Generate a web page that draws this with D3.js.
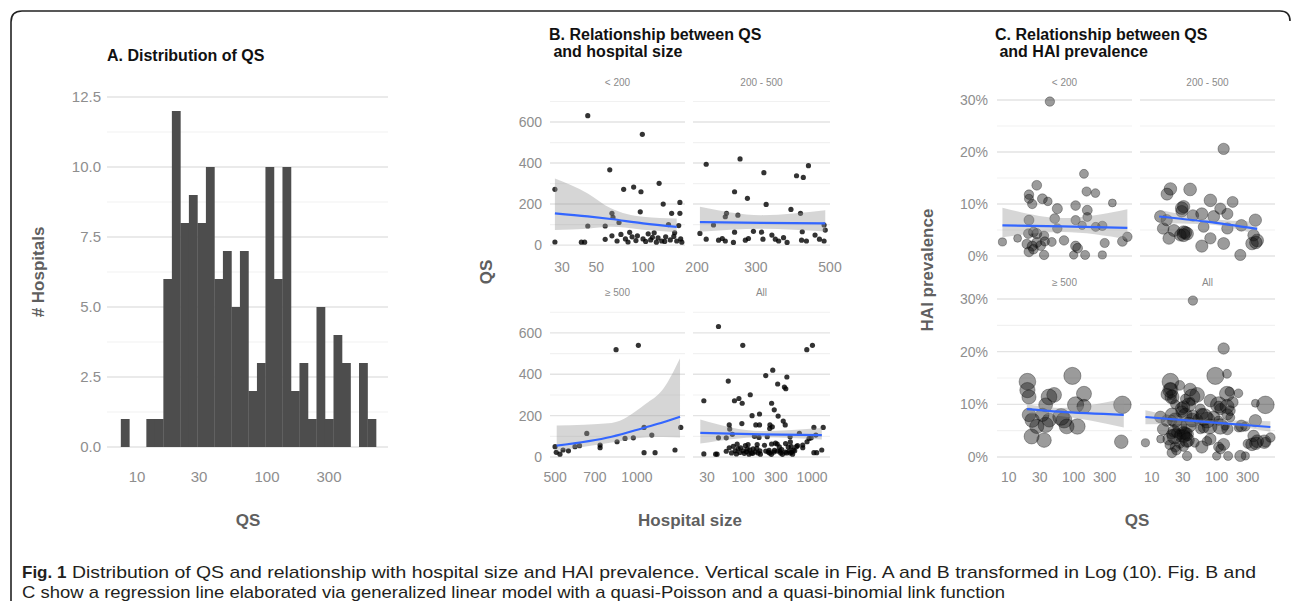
<!DOCTYPE html>
<html>
<head>
<meta charset="utf-8">
<script src="https://cdn.jsdelivr.net/npm/d3@7"></script>
<style>
body { margin: 0; background: #fff; }
svg text { font-family: "Liberation Sans", Arial, sans-serif; }
</style>
</head>
<body>
<svg id="fig" width="1292" height="601"></svg>
<script>
// ---------- data ----------
// A: histogram of QS, 30 bins on a log10 axis
var qsBinCounts = [1,0,0,1,1,6,12,8,9,8,10,6,7,5,7,2,3,10,6,10,2,3,1,5,1,4,3,0,3,1];
var qsBinRange = [7.5, 690];
var histTicks = [0, 2.5, 5, 7.5, 10, 12.5];
var qsTicks = [10, 30, 100, 300];

// B: [hospital size (beds), QS]
var bLt200 = [[27,272],[27,15],[40,14],[42,14],[44,631],[44,93],[57,93],[57,28],[61,367],[63,155],
  [64,135],[63,45],[68,20],[70,110],[75,272],[77,30],[80,15],[87,283],[85,40],[90,22],[97,260],
  [96,162],[99,540],[100,30],[104,18],[108,55],[112,25],[118,60],[122,14],[127,301],[125,35],
  [132,20],[135,200],[140,40],[146,100],[150,25],[153,155],[160,60],[165,20],[173,208],[173,155],
  [175,30],[170,95],[178,14],[92,45],[115,38],[138,18],[158,42],[72,52],[82,62]];
var b200to500 = [[204,57],[213,394],[213,29],[224,98],[232,24],[238,32],[243,138],[243,20],[245,155],
  [257,13],[259,260],[259,63],[265,146],[269,420],[279,24],[283,228],[285,32],[295,67],[312,63],
  [315,29],[317,353],[322,198],[335,49],[343,29],[351,20],[363,36],[372,13],[382,174],[397,338],
  [408,155],[411,24],[413,65],[416,330],[425,20],[431,387],[451,49],[465,29],[480,20],[480,98],[484,73]];
var bGe500 = [[500,50],[505,23],[521,14],[535,34],[560,30],[592,50],[615,55],[654,114],[732,58],
  [732,45],[838,519],[845,74],[904,90],[970,93],[1012,540],[1062,143],[1062,21],[1134,106],
  [1166,21],[1380,34],[1449,143]];
// fitted glm line: [size, fit, lower, upper]
var bFitLt200 = [[27,155,73,325],[44,140,80,252],[62,127,89,179],[100,106,75,138],[165,89,62,130]];
var bFit200to500 = [[204,112,65,187],[312,108,80,146],[484,106,66,170]];
var bFitGe500 = [[507,55,30,152],[807,98,70,165],[1072,143,95,255],[1250,168,97,330],[1440,195,95,478]];
var bFitAll = [[24,117,65,182],[186,110,96,126],[1384,106,85,140]];
var bTicksY = [0, 200, 400, 600];

// C: [QS, HAI prevalence %, hospital size]
var cLt200 = [[43,29.7,120],[144,15.8,90],[27,13.6,150],[158,12.4,110],[216,12.1,80],[20.5,11.8,130],
  [20.5,11.0,100],[33,11.0,160],[40,10.5,70],[23,10.0,120],[394,10.2,40],[56,9.1,180],[107,9.7,140],
  [162,8.8,160],[20.5,6.9,170],[51,7.2,150],[107,6.9,110],[162,7.5,90],[276,5.8,120],[218,5.6,100],
  [56,5.3,130],[135,5.9,60],[8,2.7,50],[13.7,3.4,40],[20,4.3,140],[24,4.6,160],[27,4.3,180],
  [35,3.9,120],[19,2.3,150],[23,1.9,180],[27,2.6,170],[31,2.0,160],[36,2.8,110],[46,2.7,90],
  [71,3.0,130],[107,1.9,170],[115,1.5,150],[150,0.2,100],[100,0.2,60],[35,0.2,120],[20.5,0.8,160],
  [24,1.3,140],[276,0.2,50],[300,2.5,110],[562,2.8,150],[670,3.7,130]];
var c200to500 = [[128,20.6,300],[19.4,12.9,450],[17.2,11.9,380],[39,12.8,480],[31,9.5,420],[29,8.6,350],
  [80,10.7,460],[114,9.1,300],[176,10.4,260],[13.6,7.6,350],[17,6.9,300],[43,7.8,320],[59,8.1,400],
  [146,8.1,280],[90,7.6,360],[15,5.3,330],[22,4.9,390],[31,4.6,460],[35,4.3,480],[63,5.6,250],
  [146,5.3,300],[240,5.9,340],[394,6.9,420],[18.4,3.4,380],[27.6,4.0,350],[59,1.9,410],[128,2.4,370],
  [231,0.2,280],[350,2.4,460],[420,3.0,480],[370,4.0,330],[80,3.4,300],[29,9.2,470],[33,4.5,440],
  [31,4.0,490],[400,2.6,450]];
var cGe500 = [[19.4,14.3,1200],[19.4,12.7,900],[20.5,11.4,700],[41.7,11.4,1000],[50,11.8,800],
  [37,9.9,650],[95.5,15.4,1300],[144,12.0,850],[107,9.9,1100],[144,9.6,700],[562,9.9,1400],
  [20.5,8.0,600],[23,7.0,750],[37,6.1,900],[42,7.0,650],[71,7.0,1000],[78,5.8,800],[114,5.8,950],
  [27,5.8,700],[22.5,3.9,850],[35,3.2,750],[540,2.9,600],[64,7.6,1200],[33,8.0,550]];
// fitted glm line: [QS, fit, lower, upper]
var cFitLt200 = [[8,5.9,3.6,9.3],[67,5.7,4.6,7.3],[670,5.4,3.2,9.0]];
var cFit200to500 = [[13,7.6,6.3,8.9],[70,6.6,6.1,7.2],[420,5.2,4.1,6.6]];
var cFitGe500 = [[19,9.1,8.2,10.0],[60,8.6,7.8,9.3],[590,8.0,5.6,11.1]];
var cFitAll = [[8,7.6,6.2,8.9],[60,6.7,6.3,7.1],[670,5.7,4.8,6.8]];
var haiTicks = [0, 10, 20, 30];

var groupLabels = ["< 200", "200 - 500", "\u2265 500", "All"];

// ---------- drawing ----------
var svg = d3.select("#fig");
var tickCol = "#8e8e8e", titleCol = "#5f5f5f";
var defs = svg.append("defs");
var clipN = 0;

svg.append("path")
    .attr("d", "M11,601 L11,22 Q11,11 22,11 L1280,11 Q1290,11 1290,21")
    .attr("fill", "none").attr("stroke", "#222").attr("stroke-width", 1.6);

function midpoints(a) {
    var m = [];
    for (var i = 0; i < a.length - 1; i++) m.push((a[i] + a[i + 1]) / 2);
    return m;
}

function hGrid(g, y, majors, minors, x0, x1) {
    g.selectAll(null).data(minors).enter().append("line")
        .attr("x1", x0).attr("x2", x1)
        .attr("y1", function(d) { return y(d); }).attr("y2", function(d) { return y(d); })
        .attr("stroke", "#f1f1f1").attr("stroke-width", 1.2);
    g.selectAll(null).data(majors).enter().append("line")
        .attr("x1", x0).attr("x2", x1)
        .attr("y1", function(d) { return y(d); }).attr("y2", function(d) { return y(d); })
        .attr("stroke", "#e3e3e3").attr("stroke-width", 1.4);
}

function yLabels(g, y, ticks, xRight, fmt, size) {
    g.selectAll(null).data(ticks).enter().append("text")
        .attr("x", xRight).attr("y", function(d) { return y(d); }).attr("dy", "0.35em")
        .attr("text-anchor", "end").attr("fill", tickCol).attr("font-size", size)
        .text(fmt);
}

function xLabels(g, x, ticks, yPos, size) {
    g.selectAll(null).data(ticks).enter().append("text")
        .attr("x", function(d) { return x(d); }).attr("y", yPos)
        .attr("text-anchor", "middle").attr("fill", tickCol).attr("font-size", size)
        .text(function(d) { return d; });
}

function clipFor(x0, y0, w, h) {
    var id = "clip" + (clipN++);
    defs.append("clipPath").attr("id", id).append("rect")
        .attr("x", x0).attr("y", y0).attr("width", w).attr("height", h);
    return "url(#" + id + ")";
}

function smooth(g, fit, x, y) {
    var area = d3.area().x(function(d) { return x(d[0]); })
        .y0(function(d) { return y(d[2]); }).y1(function(d) { return y(d[3]); })
        .curve(d3.curveMonotoneX);
    var line = d3.line().x(function(d) { return x(d[0]); })
        .y(function(d) { return y(d[1]); }).curve(d3.curveMonotoneX);
    g.append("path").attr("d", area(fit)).attr("fill", "#999").attr("fill-opacity", 0.4);
    g.append("path").attr("d", line(fit)).attr("fill", "none")
        .attr("stroke", "#3366ff").attr("stroke-width", 2.2);
}

function title(lines, x, y) {
    var t = svg.append("text").attr("x", x).attr("y", y)
        .attr("font-size", 16).attr("font-weight", "bold").attr("fill", "#111")
        .style("white-space", "pre");
    lines.forEach(function(s, i) {
        t.append("tspan").attr("x", x).attr("dy", i ? 17 : 0).text(s);
    });
}

function axisTitle(txt, x, y, rotate) {
    svg.append("text")
        .attr("transform", "translate(" + x + "," + y + ")" + (rotate ? " rotate(-90)" : ""))
        .attr("text-anchor", "middle").attr("dy", "0.35em")
        .attr("font-size", 17).attr("font-weight", "bold").attr("fill", titleCol)
        .text(txt);
}

// ---------- A. histogram ----------
var xA = d3.scaleLog().domain([5.87, 853]).range([107, 388]);
var yA = d3.scaleLinear().domain([0, 12.5]).range([447, 97]);
var gA = svg.append("g");
hGrid(gA, yA, histTicks, midpoints(histTicks), 107, 388);

var lo = Math.log10(qsBinRange[0]), hi = Math.log10(qsBinRange[1]);
var step = (hi - lo) / qsBinCounts.length;
var bins = qsBinCounts.map(function(n, i) {
    return {x0: Math.pow(10, lo + i * step), x1: Math.pow(10, lo + (i + 1) * step), n: n};
});
gA.selectAll(".bar").data(bins.filter(function(b) { return b.n > 0; }))
    .enter().append("rect").attr("class", "bar")
    .attr("x", function(d) { return xA(d.x0); })
    .attr("width", function(d) { return xA(d.x1) - xA(d.x0) + 0.3; })
    .attr("y", function(d) { return yA(d.n); })
    .attr("height", function(d) { return yA(0) - yA(d.n); })
    .attr("fill", "#4d4d4d");
yLabels(gA, yA, histTicks, 101, d3.format(".1f"), 15);
xLabels(gA, xA, qsTicks, 482, 15);
title(["A. Distribution of QS"], 107, 61);
axisTitle("# Hospitals", 38, 272, true);
axisTitle("QS", 248, 520, false);

// ---------- B. QS vs hospital size ----------
var bRows = [
    {y: d3.scaleLinear().domain([-24, 722]).range([250, 97]), top: 97, bottom: 250, strip: 86, tickY: 272},
    {y: d3.scaleLinear().domain([-24, 735]).range([462, 305]), top: 305, bottom: 462, strip: 296, tickY: 482}
];
var bCols = [[550, 685], [693, 830]];
var bFacets = [
    {pts: bLt200, fit: bFitLt200, xd: [25.1, 186.6], ticks: [30, 50, 100], row: 0, col: 0},
    {pts: b200to500, fit: bFit200to500, xd: [194.5, 500], ticks: [200, 300, 500], row: 0, col: 1},
    {pts: bGe500, fit: bFitGe500, xd: [479, 1502], ticks: [500, 700, 1000], row: 1, col: 0},
    {pts: bLt200.concat(b200to500, bGe500), fit: bFitAll, xd: [18.8, 1818], ticks: [30, 100, 300, 1000], row: 1, col: 1}
];
var bMinor = midpoints(bTicksY).concat([700]);

bFacets.forEach(function(f, i) {
    var row = bRows[f.row], xr = bCols[f.col];
    var x = d3.scaleLog().domain(f.xd).range(xr);
    var g = svg.append("g");
    hGrid(g, row.y, bTicksY, bMinor, xr[0], xr[1]);
    var inner = g.append("g").attr("clip-path", clipFor(xr[0], row.top, xr[1] - xr[0], row.bottom - row.top));
    inner.selectAll("circle").data(f.pts).enter().append("circle")
        .attr("cx", function(d) { return x(d[0]); })
        .attr("cy", function(d) { return row.y(d[1]); })
        .attr("r", 2.6).attr("fill", "#000").attr("fill-opacity", 0.8);
    smooth(inner, f.fit, x, row.y);
    if (f.col === 0) yLabels(g, row.y, bTicksY, 542, function(d) { return d; }, 14);
    xLabels(g, x, f.ticks, row.tickY, 14);
    g.append("text").attr("x", (xr[0] + xr[1]) / 2).attr("y", row.strip)
        .attr("text-anchor", "middle").attr("font-size", 10).attr("fill", "#8a8a8a")
        .text(groupLabels[i]);
});
title(["B. Relationship between QS", " and hospital size"], 549, 40);
axisTitle("QS", 486, 272, true);
axisTitle("Hospital size", 690, 520, false);

// ---------- C. HAI prevalence vs QS ----------
var cRows = [
    {y: d3.scaleLinear().domain([0, 30]).range([256, 100]), top: 92, bottom: 263, strip: 86},
    {y: d3.scaleLinear().domain([0, 30]).range([457, 299]), top: 291, bottom: 464, strip: 286}
];
var cCols = [[997, 1132], [1140, 1275]];
var cFacets = [
    {pts: cLt200, fit: cFitLt200, row: 0, col: 0},
    {pts: c200to500, fit: cFit200to500, row: 0, col: 1},
    {pts: cGe500, fit: cFitGe500, row: 1, col: 0},
    {pts: cLt200.concat(c200to500, cGe500), fit: cFitAll, row: 1, col: 1}
];
var rSize = d3.scaleSqrt().domain([0, 1500]).range([3, 9]);

cFacets.forEach(function(f, i) {
    var row = cRows[f.row], xr = cCols[f.col];
    var x = d3.scaleLog().domain([6.6, 790]).range(xr);
    var g = svg.append("g");
    hGrid(g, row.y, haiTicks, midpoints(haiTicks), xr[0], xr[1]);
    var inner = g.append("g").attr("clip-path", clipFor(xr[0] - 10, row.top, xr[1] - xr[0] + 20, row.bottom - row.top));
    inner.selectAll("circle").data(f.pts).enter().append("circle")
        .attr("cx", function(d) { return x(d[0]); })
        .attr("cy", function(d) { return row.y(d[1]); })
        .attr("r", function(d) { return rSize(d[2]); })
        .attr("fill", "#111").attr("fill-opacity", 0.42)
        .attr("stroke", "#000").attr("stroke-opacity", 0.3);
    smooth(inner, f.fit, x, row.y);
    if (f.col === 0) yLabels(g, row.y, haiTicks, 988, function(d) { return d + "%"; }, 14);
    if (f.row === 1) xLabels(g, x, qsTicks, 482, 14);
    g.append("text").attr("x", (xr[0] + xr[1]) / 2).attr("y", row.strip)
        .attr("text-anchor", "middle").attr("font-size", 10).attr("fill", "#8a8a8a")
        .text(groupLabels[i]);
});
title(["C. Relationship between QS", " and HAI prevalence"], 995, 40);
axisTitle("HAI prevalence", 927, 270, true);
axisTitle("QS", 1137, 520, false);

// ---------- caption ----------
svg.append("text").attr("x", 22).attr("y", 578)
    .attr("font-size", 17).attr("font-weight", "bold").attr("fill", "#231f20")
    .text("Fig. 1");
svg.append("text").attr("x", 72).attr("y", 578)
    .attr("font-size", 17).attr("fill", "#231f20")
    .attr("textLength", 1184).attr("lengthAdjust", "spacingAndGlyphs")
    .text("Distribution of QS and relationship with hospital size and HAI prevalence. Vertical scale in Fig. A and B transformed in Log (10). Fig. B and");
svg.append("text").attr("x", 22).attr("y", 598)
    .attr("font-size", 17).attr("fill", "#231f20")
    .attr("textLength", 983).attr("lengthAdjust", "spacingAndGlyphs")
    .text("C show a regression line elaborated via generalized linear model with a quasi-Poisson and a quasi-binomial link function");
</script>
</body>
</html>
